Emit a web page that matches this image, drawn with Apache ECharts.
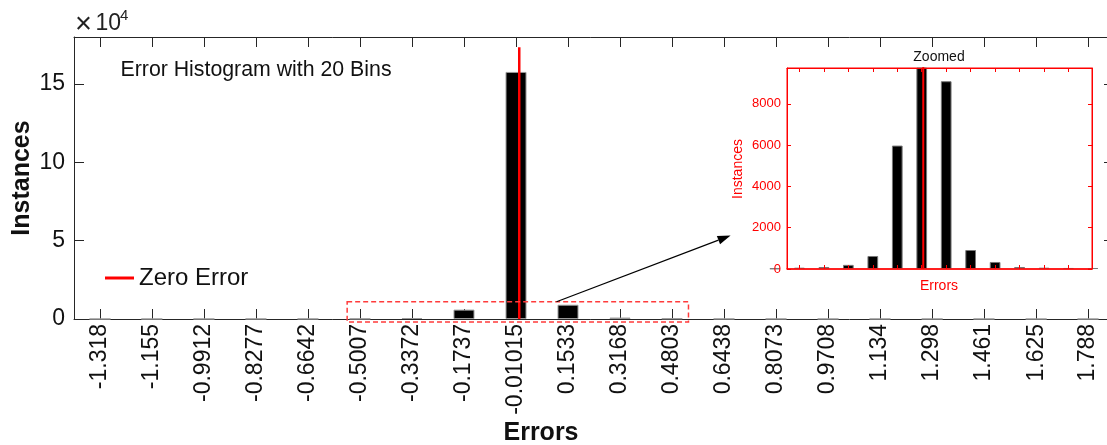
<!DOCTYPE html>
<html>
<head>
<meta charset="utf-8">
<script src="https://cdn.jsdelivr.net/npm/echarts@6/dist/echarts.min.js"></script>
<style>
html,body{margin:0;padding:0;background:#fff;}
#c{width:1107px;height:445px;}
</style>
</head>
<body>
<div id="c"></div>
<script>
// ---- data ----
const binCenters = [-1.318, -1.155, -0.9912, -0.8277, -0.6642, -0.5007, -0.3372, -0.1737, -0.01015, 0.1533,
                    0.3168, 0.4803, 0.6438, 0.8073, 0.9708, 1.134, 1.298, 1.461, 1.625, 1.788];
const tickLabels = ['-1.318', '-1.155', '-0.9912', '-0.8277', '-0.6642', '-0.5007', '-0.3372', '-0.1737', '-0.01015', '0.1533',
                    '0.3168', '0.4803', '0.6438', '0.8073', '0.9708', '1.134', '1.298', '1.461', '1.625', '1.788'];
const instances = [10, 15, 25, 64, 96, 200, 630, 5980, 157700, 9100,
                   920, 340, 97, 64, 50, 48, 30, 20, 15, 10];
const mainYTicks = [0, 50000, 100000, 150000];
const insetYTicks = [0, 2000, 4000, 6000, 8000];
const mainXRange = [-1.3997, 1.8697];
const mainYRange = [0, 180000];
const insetXRange = [-0.9108, 1.1279];
const insetYRange = [0, 9740];
const zeroLine = [[0, 0], [0, 173400]];
const zoomBoxCorners = [[-0.541, 11000], [0.532, -1900]];
const arrowFrom = [0.1172, 11000];
const arrowTo = [0.6644, 53316];

const FONT = "'Liberation Sans', Arial, sans-serif";
const AX = '#262626';

const chart = echarts.init(document.getElementById('c'), null, {renderer: 'canvas'});

const insetTicks = binCenters.filter(v => v >= insetXRange[0] && v <= insetXRange[1]);
const barData = binCenters.map((x, i) => [x, instances[i]]);

function mkX(grid, pos, range, ticks, color, tickLen, withLabels, lineW) {
  return {
    type: 'value', gridIndex: grid, position: pos, min: range[0], max: range[1],
    axisLine: {show: true, onZero: false, lineStyle: {color: color, width: lineW || 1}},
    axisTick: {show: true, inside: true, length: tickLen, customValues: ticks, lineStyle: {color: color, width: 1}},
    axisLabel: withLabels ? {
      show: true, customValues: ticks, rotate: 90, margin: 5, fontSize: 23, fontFamily: FONT, color: '#111',
      formatter: v => { const i = binCenters.indexOf(v); return i >= 0 ? tickLabels[i] : ''; }
    } : {show: false},
    splitLine: {show: false}
  };
}
function mkY(grid, pos, range, ticks, color, tickLen, labelCfg) {
  return {
    type: 'value', gridIndex: grid, position: pos, min: range[0], max: range[1],
    axisLine: {show: true, onZero: false, lineStyle: {color: color, width: 1}},
    axisTick: {show: true, inside: true, length: tickLen, customValues: ticks, lineStyle: {color: color, width: 1}},
    axisLabel: labelCfg ? Object.assign({show: true, customValues: ticks, fontFamily: FONT}, labelCfg) : {show: false},
    splitLine: {show: false}
  };
}

const option = {
  animation: false,
  backgroundColor: '#fff',
  grid: [
    {left: 74, top: 37, width: 1040, height: 282, containLabel: false, outerBoundsMode: 'none'},
    {left: 787, top: 68, width: 305, height: 201, containLabel: false, outerBoundsMode: 'none',
     show: true, backgroundColor: '#fff', borderColor: '#ff0000', borderWidth: 1, z: 10}
  ],
  legend: {
    data: [{name: 'Zero Error', icon: 'rect'}],
    left: 100, top: 261, itemWidth: 29, itemHeight: 3, selectedMode: false,
    textStyle: {fontSize: 24, fontFamily: FONT, color: '#111'}
  },
  xAxis: [
    mkX(0, 'bottom', mainXRange, binCenters, AX, 10, true),
    mkX(0, 'top', mainXRange, binCenters, AX, 10, false),
    Object.assign(mkX(1, 'bottom', insetXRange, insetTicks, '#ff0000', 4, false, 1.5), {z: 12}),
    Object.assign(mkX(1, 'top', insetXRange, insetTicks, '#ff0000', 4, false), {z: 12})
  ],
  yAxis: [
    mkY(0, 'left', mainYRange, mainYTicks, AX, 10, {fontSize: 23, color: '#111', margin: 9, formatter: v => String(v / 10000)}),
    mkY(0, 'right', mainYRange, mainYTicks, AX, 10, null),
    Object.assign(mkY(1, 'left', insetYRange, insetYTicks, '#ff0000', 4, {fontSize: 13, color: '#ff0000', margin: 6, formatter: v => String(v)}), {z: 12}),
    Object.assign(mkY(1, 'right', insetYRange, insetYTicks, '#ff0000', 4, null), {z: 12})
  ],
  series: [
    {
      type: 'bar', name: 'Histogram', xAxisIndex: 0, yAxisIndex: 0, data: barData, barWidth: 21,
      itemStyle: {color: '#000', borderColor: '#9a9a9a', borderWidth: 1}, z: 2
    },
    {
      type: 'line', name: 'Zero Error', xAxisIndex: 0, yAxisIndex: 0, data: zeroLine, symbol: 'none',
      lineStyle: {color: '#ff0000', width: 2.5}, itemStyle: {color: '#ff0000'}, z: 3
    },
    {
      type: 'bar', name: 'Inset', xAxisIndex: 2, yAxisIndex: 2, data: barData, barWidth: 10.7, clip: true,
      itemStyle: {color: '#000', borderColor: '#777', borderWidth: 1}, z: 11
    },
    {
      type: 'line', name: 'InsetZero', xAxisIndex: 2, yAxisIndex: 2, data: zeroLine, symbol: 'none', clip: true,
      lineStyle: {color: '#ff0000', width: 2}, z: 11
    }
  ]
};
chart.setOption(option);

// annotations positioned through the chart's own scales
const p0 = chart.convertToPixel({xAxisIndex: 0, yAxisIndex: 0}, zoomBoxCorners[0]);
const p1 = chart.convertToPixel({xAxisIndex: 0, yAxisIndex: 0}, zoomBoxCorners[1]);
const a0 = chart.convertToPixel({xAxisIndex: 0, yAxisIndex: 0}, arrowFrom);
const a1 = chart.convertToPixel({xAxisIndex: 0, yAxisIndex: 0}, arrowTo);
const ang = Math.atan2(a1[1] - a0[1], a1[0] - a0[0]);
const headLen = 13, headW = 4.5;
const bx = a1[0] - headLen * Math.cos(ang), by = a1[1] - headLen * Math.sin(ang);
const nx = -Math.sin(ang), ny = Math.cos(ang);

chart.setOption({
  graphic: [
    {type: 'rect', z: 20, shape: {x: p0[0], y: p0[1], width: p1[0] - p0[0], height: p1[1] - p0[1]},
     style: {fill: 'none', stroke: '#ff3b3b', lineWidth: 1.5, lineDash: [5, 3]}},
    {type: 'line', z: 20, shape: {x1: a0[0], y1: a0[1], x2: bx, y2: by}, style: {stroke: '#000', lineWidth: 1.2}},
    {type: 'polygon', z: 20, shape: {points: [[a1[0], a1[1]], [bx + nx * headW, by + ny * headW], [bx - nx * headW, by - ny * headW]]},
     style: {fill: '#000'}},
    {type: 'text', z: 20, x: 120.5, y: 70.5, style: {text: 'Error Histogram with 20 Bins', font: '21.3px ' + FONT, fill: '#111', align: 'left', verticalAlign: 'middle'}},
    {type: 'text', z: 20, x: 83.5, y: 25, style: {text: '×', font: '29px ' + FONT, fill: '#222', align: 'center', verticalAlign: 'middle'}},
    {type: 'text', z: 20, x: 95.5, y: 23.5, style: {text: '10', font: '23px ' + FONT, fill: '#222', align: 'left', verticalAlign: 'middle'}},
    {type: 'text', z: 20, x: 120, y: 15.5, style: {text: '4', font: '15px ' + FONT, fill: '#222', align: 'left', verticalAlign: 'middle'}},
    {type: 'text', z: 20, x: 22, y: 178, rotation: Math.PI / 2, style: {text: 'Instances', font: 'bold 25px ' + FONT, fill: '#111', align: 'center', verticalAlign: 'middle'}},
    {type: 'text', z: 20, x: 541, y: 433, style: {text: 'Errors', font: 'bold 25px ' + FONT, fill: '#111', align: 'center', verticalAlign: 'middle'}},
    {type: 'text', z: 20, x: 939, y: 57.5, style: {text: 'Zoomed', font: '14px ' + FONT, fill: '#111', align: 'center', verticalAlign: 'middle'}},
    {type: 'text', z: 20, x: 939, y: 286, style: {text: 'Errors', font: '14px ' + FONT, fill: '#ff0000', align: 'center', verticalAlign: 'middle'}},
    {type: 'text', z: 20, x: 738, y: 169, rotation: Math.PI / 2, style: {text: 'Instances', font: '14px ' + FONT, fill: '#ff0000', align: 'center', verticalAlign: 'middle'}}
  ]
});
</script>
</body>
</html>
